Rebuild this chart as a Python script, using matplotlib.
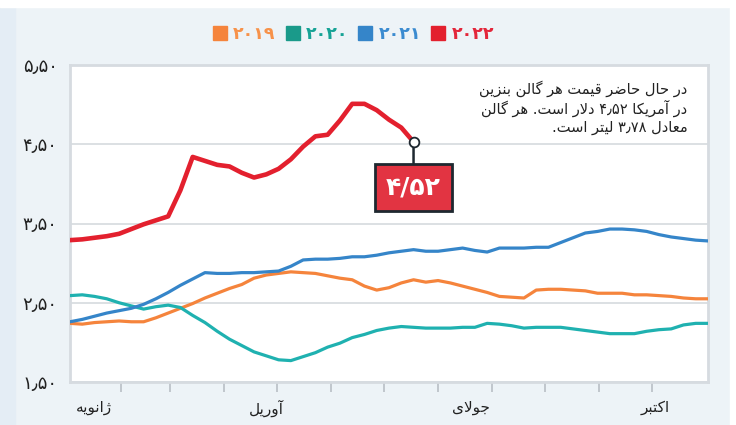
import re
import numpy as np
import matplotlib.pyplot as plt
from matplotlib.lines import Line2D
from matplotlib.patches import Rectangle

plt.rcParams['font.family'] = ['DejaVu Sans']

# قیمت هفتگی بنزین (دلار برای هر گالن)
weeks = np.arange(53)
gas_2019 = [2.24, 2.23, 2.25, 2.26, 2.27, 2.26, 2.26, 2.31, 2.37, 2.43, 2.49, 2.56, 2.62, 2.68,
            2.73, 2.81, 2.85, 2.87, 2.89, 2.88, 2.87, 2.84, 2.81, 2.79, 2.71, 2.66, 2.69, 2.75,
            2.79, 2.76, 2.78, 2.75, 2.71, 2.67, 2.63, 2.58, 2.57, 2.56, 2.66, 2.67, 2.67, 2.66,
            2.65, 2.62, 2.62, 2.62, 2.60, 2.60, 2.59, 2.58, 2.56, 2.55, 2.55]
gas_2020 = [2.59, 2.60, 2.58, 2.55, 2.50, 2.46, 2.42, 2.45, 2.47, 2.44, 2.34, 2.25, 2.14, 2.04,
            1.96, 1.88, 1.83, 1.78, 1.77, 1.82, 1.87, 1.94, 1.99, 2.06, 2.10, 2.15, 2.18, 2.20,
            2.19, 2.18, 2.18, 2.18, 2.19, 2.19, 2.24, 2.23, 2.21, 2.18, 2.19, 2.19, 2.19, 2.17,
            2.15, 2.13, 2.11, 2.11, 2.11, 2.14, 2.16, 2.17, 2.22, 2.24, 2.24]
gas_2021 = [2.26, 2.29, 2.33, 2.37, 2.40, 2.43, 2.48, 2.55, 2.63, 2.72, 2.80, 2.88, 2.87, 2.87,
            2.88, 2.88, 2.89, 2.90, 2.96, 3.04, 3.05, 3.05, 3.06, 3.08, 3.08, 3.10, 3.13, 3.15,
            3.17, 3.15, 3.15, 3.17, 3.19, 3.16, 3.14, 3.19, 3.19, 3.19, 3.20, 3.20, 3.26, 3.32,
            3.38, 3.40, 3.43, 3.43, 3.42, 3.40, 3.36, 3.33, 3.31, 3.29, 3.28]
gas_2022 = [3.29, 3.30, 3.32, 3.34, 3.37, 3.43, 3.49, 3.54, 3.59, 3.92, 4.34, 4.29, 4.24, 4.22,
            4.14, 4.08, 4.12, 4.19, 4.31, 4.47, 4.60, 4.62, 4.80, 5.01, 5.01, 4.93, 4.81, 4.71,
            4.53]

years = ['۲۰۱۹', '۲۰۲۰', '۲۰۲۱', '۲۰۲۲']
colors = ['#f5843c', '#1fb1b0', '#3585c9', '#e3202e']
legend_colors = ['#f7924a', '#17a396', '#3b8bd0', '#e3263a']
y_ticks = [1.5, 2.5, 3.5, 4.5, 5.5]
y_labels = ['۱٫۵۰', '۲٫۵۰', '۳٫۵۰', '۴٫۵۰', '۵٫۵۰']
month_start_days = [31, 59, 90, 120, 151, 181, 212, 243, 273, 304, 334]
month_names = ['ژانویه', 'آوریل', 'جولای', 'اکتبر']
month_label_x = [3.4, 17.4, 34.2, 48.9]
current_label = '۴/۵۲'
note = ['در حال حاضر قیمت هر گالن بنزین',
        'در آمریکا ۴٫۵۲ دلار است. هر گالن',
        'معادل ۳٫۷۸ لیتر است.']

# شکل دهی ساده حروف فارسی (matplotlib خودش این کار را نمی کند)
FORMS = {
    'ا': ('\uFE8D', '\uFE8E', None, None), 'آ': ('\uFE81', '\uFE82', None, None),
    'د': ('\uFEA9', '\uFEAA', None, None), 'ر': ('\uFEAD', '\uFEAE', None, None),
    'ز': ('\uFEAF', '\uFEB0', None, None), 'ژ': ('\uFB8A', '\uFB8B', None, None),
    'و': ('\uFEED', '\uFEEE', None, None),
    'ب': ('\uFE8F', '\uFE90', '\uFE91', '\uFE92'), 'ت': ('\uFE95', '\uFE96', '\uFE97', '\uFE98'),
    'ج': ('\uFE9D', '\uFE9E', '\uFE9F', '\uFEA0'), 'ح': ('\uFEA1', '\uFEA2', '\uFEA3', '\uFEA4'),
    'س': ('\uFEB1', '\uFEB2', '\uFEB3', '\uFEB4'), 'ض': ('\uFEBD', '\uFEBE', '\uFEBF', '\uFEC0'),
    'ع': ('\uFEC9', '\uFECA', '\uFECB', '\uFECC'), 'ق': ('\uFED5', '\uFED6', '\uFED7', '\uFED8'),
    'ک': ('\uFB8E', '\uFB8F', '\uFB90', '\uFB91'), 'گ': ('\uFB92', '\uFB93', '\uFB94', '\uFB95'),
    'ل': ('\uFEDD', '\uFEDE', '\uFEDF', '\uFEE0'), 'م': ('\uFEE1', '\uFEE2', '\uFEE3', '\uFEE4'),
    'ن': ('\uFEE5', '\uFEE6', '\uFEE7', '\uFEE8'), 'ه': ('\uFEE9', '\uFEEA', '\uFEEB', '\uFEEC'),
    'ی': ('\uFBFC', '\uFBFD', '\uFBFE', '\uFBFF'),
}


def joins_next(c):
    return c in FORMS and FORMS[c][2] is not None


def fa(text):
    out = []
    i = 0
    while i < len(text):
        c = text[i]
        prev = text[i - 1] if i > 0 else ''
        if c == 'ل' and i + 1 < len(text) and text[i + 1] == 'ا':
            out.append('\uFEFC' if joins_next(prev) else '\uFEFB')
            i += 2
            continue
        if c not in FORMS:
            out.append(c)
            i += 1
            continue
        nxt = text[i + 1] if i + 1 < len(text) else ''
        jp = joins_next(prev)
        jn = joins_next(c) and nxt in FORMS
        iso, fin, ini, med = FORMS[c]
        out.append(med if jp and jn else fin if jp else ini if jn else iso)
        i += 1
    s = ''.join(out)
    tokens = re.findall(r'[۰-۹٫/]+|[^۰-۹٫/]+', s)
    return ''.join(t if re.match(r'[۰-۹٫/]', t) else t[::-1] for t in reversed(tokens))


fig = plt.figure(figsize=(7.36, 4.25), dpi=100, facecolor='#edf3f7')
fig.patches.append(Rectangle((0, 0), 0.02, 1, transform=fig.transFigure, color='#e4edf5', zorder=-1))
fig.patches.append(Rectangle((0, 0.983), 1, 0.02, transform=fig.transFigure, color='white', zorder=-1))
fig.patches.append(Rectangle((0.992, 0), 0.01, 1, transform=fig.transFigure, color='white', zorder=-1))

ax = fig.add_axes([70 / 736, 1 - 382 / 425, 638 / 736, 317 / 425])
ax.set_facecolor('white')

series = [gas_2019, gas_2020, gas_2021]
for vals, c in zip(series, colors[:3]):
    ax.plot(weeks[:len(vals)], vals, color=c, lw=2.3, solid_joinstyle='round', zorder=3)
red_x = weeks[:len(gas_2022)]
ax.plot(red_x, gas_2022, color=colors[3], lw=3.3, solid_joinstyle='round', zorder=4)

ax.set_xlim(0, 52)
ax.set_ylim(1.5, 5.5)
ax.set_yticks(y_ticks)
ax.set_yticklabels(y_labels, fontsize=13, color='#222222')
ax.tick_params(axis='y', length=0, pad=9)
ax.set_xticks([d / 7 - 0.3 for d in month_start_days])
ax.set_xticklabels([])
ax.tick_params(axis='x', length=7, width=1.2, color='#b9bfc5', direction='out')
ax.grid(axis='y', color='#d9dde1', lw=1.3)
ax.set_axisbelow(True)
for sp in ax.spines.values():
    sp.set_color('#d6dbe0')
    sp.set_linewidth(2)

for name, xpos in zip(month_names, month_label_x):
    ax.text(xpos, -0.082, fa(name), transform=ax.get_xaxis_transform(),
            ha='right', va='center', fontsize=11, color='#222222')

# آخرین مقدار و برچسب قرمز
ax.annotate(current_label, xy=(red_x[-1], gas_2022[-1]), xytext=(0, -33),
            textcoords='offset points', ha='center', va='center',
            fontsize=18, fontweight='bold', color='white', zorder=6,
            bbox=dict(boxstyle='square,pad=0.45', fc='#e23442', ec='#1e2830', lw=2),
            arrowprops=dict(arrowstyle='-', color='#1e2830', lw=1.8, shrinkA=0, shrinkB=3))
ax.plot(red_x[-1], gas_2022[-1], 'o', ms=7, mfc='white', mec='#1e2830', mew=1.3, zorder=7)

for k, line in enumerate(note):
    ax.text(0.968, 0.924 - k * 0.06, fa(line), transform=ax.transAxes, ha='right', va='center',
            fontsize=10.5, color='#222222')

handles = [Line2D([], [], marker='s', ls='', ms=9.5, color=c) for c in colors]
handles[1].set_color('#1a9a8a')
leg = fig.legend(handles, years, loc='center', bbox_to_anchor=(0.48, 0.92), ncol=4, frameon=False,
                 fontsize=12.5, handletextpad=0.35, columnspacing=0.6, handlelength=0.8,
                 labelcolor=legend_colors)
for t in leg.get_texts():
    t.set_fontweight('bold')

fig.savefig('out.png', dpi=100, facecolor=fig.get_facecolor())
